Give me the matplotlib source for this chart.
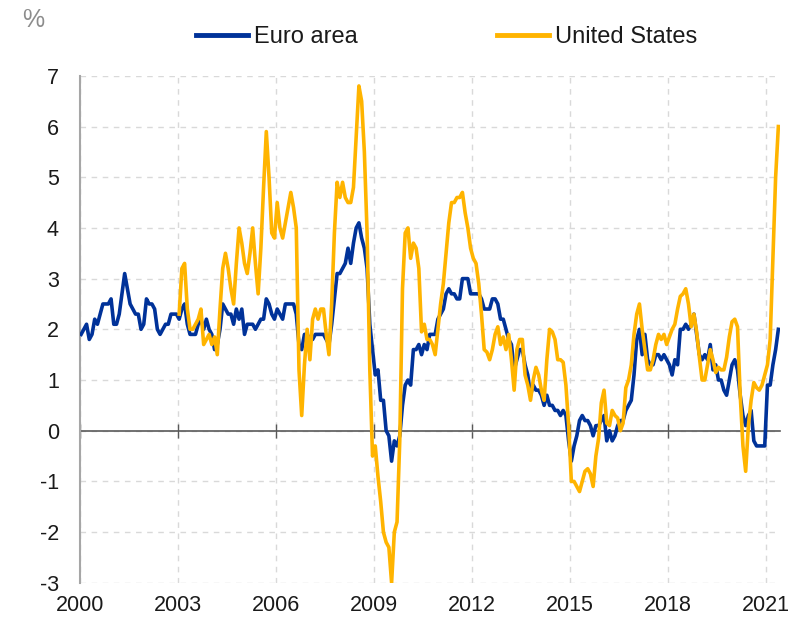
import numpy as np
import matplotlib
matplotlib.use("Agg")
import matplotlib.pyplot as plt
from matplotlib.lines import Line2D

plt.rcParams['font.family'] = ['Liberation Sans', 'DejaVu Sans']

# Monthly year-on-year inflation, % (Euro area: Jan 2000 - May 2021)
euro_area = [
    1.9, 2.0, 2.1, 1.8, 1.9, 2.2, 2.1, 2.3, 2.5, 2.5, 2.5, 2.6,   # 2000
    2.1, 2.1, 2.3, 2.7, 3.1, 2.8, 2.5, 2.4, 2.3, 2.3, 2.0, 2.1,   # 2001
    2.6, 2.5, 2.5, 2.4, 2.0, 1.9, 2.0, 2.1, 2.1, 2.3, 2.3, 2.3,   # 2002
    2.2, 2.4, 2.5, 2.1, 1.9, 1.9, 1.9, 2.1, 2.2, 2.0, 2.2, 2.0,   # 2003
    1.9, 1.6, 1.7, 2.0, 2.5, 2.4, 2.3, 2.3, 2.1, 2.4, 2.2, 2.4,   # 2004
    1.9, 2.1, 2.1, 2.1, 2.0, 2.1, 2.2, 2.2, 2.6, 2.5, 2.3, 2.2,   # 2005
    2.4, 2.3, 2.2, 2.5, 2.5, 2.5, 2.5, 2.3, 1.7, 1.6, 1.9, 1.9,   # 2006
    1.8, 1.8, 1.9, 1.9, 1.9, 1.9, 1.8, 1.7, 2.1, 2.6, 3.1, 3.1,   # 2007
    3.2, 3.3, 3.6, 3.3, 3.7, 4.0, 4.1, 3.8, 3.6, 3.2, 2.1, 1.6,   # 2008
    1.1, 1.2, 0.6, 0.6, 0.0, -0.1, -0.6, -0.2, -0.3, -0.1, 0.5, 0.9,  # 2009
    1.0, 0.9, 1.6, 1.6, 1.7, 1.5, 1.7, 1.6, 1.9, 1.9, 1.9, 2.2,   # 2010
    2.3, 2.4, 2.7, 2.8, 2.7, 2.7, 2.6, 2.6, 3.0, 3.0, 3.0, 2.7,   # 2011
    2.7, 2.7, 2.7, 2.6, 2.4, 2.4, 2.4, 2.6, 2.6, 2.5, 2.2, 2.2,   # 2012
    2.0, 1.8, 1.7, 1.2, 1.4, 1.6, 1.6, 1.3, 1.1, 0.7, 0.9, 0.8,   # 2013
    0.8, 0.7, 0.5, 0.7, 0.5, 0.5, 0.4, 0.4, 0.3, 0.4, 0.3, -0.2,  # 2014
    -0.6, -0.3, -0.1, 0.2, 0.3, 0.2, 0.2, 0.1, -0.1, 0.1, 0.1, 0.2,  # 2015
    0.3, -0.2, 0.0, -0.2, -0.1, 0.1, 0.2, 0.2, 0.4, 0.5, 0.6, 1.1,  # 2016
    1.8, 2.0, 1.5, 1.9, 1.4, 1.3, 1.3, 1.5, 1.5, 1.4, 1.5, 1.4,   # 2017
    1.3, 1.1, 1.4, 1.3, 2.0, 2.0, 2.1, 2.0, 2.1, 2.3, 1.9, 1.5,   # 2018
    1.4, 1.5, 1.4, 1.7, 1.2, 1.3, 1.0, 1.0, 0.8, 0.7, 1.0, 1.3,   # 2019
    1.4, 1.2, 0.7, 0.3, 0.1, 0.3, 0.4, -0.2, -0.3, -0.3, -0.3, -0.3,  # 2020
    0.9, 0.9, 1.3, 1.6, 2.0,                                      # 2021
]

# United States: Jan 2003 - May 2021
united_states = [
    2.3, 3.2, 3.3, 2.4, 2.0, 2.0, 2.1, 2.2, 2.4, 1.7, 1.8, 1.9,   # 2003
    1.7, 1.85, 1.5, 2.4, 3.2, 3.5, 3.2, 2.8, 2.5, 3.3, 4.0, 3.7,  # 2004
    3.3, 3.1, 3.5, 4.0, 3.3, 2.7, 3.6, 4.8, 5.9, 5.0, 3.9, 3.8,   # 2005
    4.5, 4.0, 3.8, 4.1, 4.4, 4.7, 4.4, 4.0, 1.2, 0.3, 1.3, 2.0,   # 2006
    1.4, 2.2, 2.4, 2.2, 2.4, 2.4, 1.9, 1.5, 2.5, 3.9, 4.9, 4.6,   # 2007
    4.9, 4.6, 4.5, 4.5, 4.8, 5.8, 6.8, 6.5, 5.5, 3.9, 1.2, -0.5,  # 2008
    -0.3, -0.9, -1.4, -2.0, -2.2, -2.3, -3.0, -2.0, -1.8, -0.2, 2.8, 3.9,  # 2009
    4.0, 3.4, 3.7, 3.6, 3.2, 1.95, 2.1, 1.8, 1.8, 1.7, 1.5, 2.0,  # 2010
    2.5, 2.9, 3.5, 4.1, 4.5, 4.5, 4.6, 4.6, 4.7, 4.3, 4.0, 3.6,   # 2011
    3.4, 3.3, 2.9, 2.3, 1.6, 1.55, 1.4, 1.6, 1.9, 2.05, 1.7, 1.85,  # 2012
    1.6, 1.9, 1.4, 0.8, 1.6, 1.8, 1.8, 1.1, 0.9, 0.6, 1.0, 1.25,  # 2013
    1.1, 0.8, 0.6, 1.4, 2.0, 1.95, 1.8, 1.4, 1.4, 1.35, 0.9, 0.1,  # 2014
    -1.0, -1.0, -1.1, -1.2, -1.0, -0.8, -0.75, -0.85, -1.1, -0.5, -0.15, 0.55,  # 2015
    0.8, 0.15, 0.1, 0.4, 0.3, 0.25, 0.0, 0.15, 0.85, 1.0, 1.3, 1.9,  # 2016
    2.3, 2.5, 2.0, 1.6, 1.2, 1.2, 1.4, 1.7, 1.9, 1.8, 1.9, 1.7,   # 2017
    1.85, 2.0, 2.1, 2.4, 2.65, 2.7, 2.8, 2.5, 2.05, 2.3, 1.95, 1.45,  # 2018
    1.0, 1.0, 1.3, 1.6, 1.4, 1.15, 1.25, 1.2, 1.2, 1.45, 1.85, 2.15,  # 2019
    2.2, 2.05, 0.7, -0.3, -0.8, 0.1, 0.6, 0.95, 0.85, 0.8, 0.9, 1.1,  # 2020
    1.3, 1.8, 3.4, 5.0, 6.0,                                      # 2021
]

us_start_month = 36  # Jan 2003
year_labels = ['2000', '2003', '2006', '2009', '2012', '2015', '2018', '2021']
y_ticks = [-3, -2, -1, 0, 1, 2, 3, 4, 5, 6, 7]
series_names = ['Euro area', 'United States']

BLUE = '#003299'
YELLOW = '#FFB400'

n = len(euro_area)
x_eu = np.arange(n) + 0.5
x_us = np.arange(us_start_month, us_start_month + len(united_states)) + 0.5
x_ticks = np.arange(len(year_labels)) * 36

fig = plt.figure(figsize=(8.03, 6.24), dpi=100)
ax = fig.add_axes([0.0993, 0.066, 0.8717, 0.8125])

ax.plot(x_eu, euro_area, color=BLUE, lw=2.6, solid_joinstyle='round', zorder=3)
ax.plot(x_us, united_states, color=YELLOW, lw=2.6, solid_joinstyle='round', zorder=4)

ax.set_xlim(0, n)
ax.set_ylim(-3, 7)
ax.set_yticks(y_ticks)
ax.set_yticklabels([str(v) for v in y_ticks])
ax.set_xticks(x_ticks)

ax.grid(True, color='#d9d9d9', linestyle=(0, (4, 4)), linewidth=1, zorder=0)
ax.set_axisbelow(True)

for s in ['top', 'right']:
    ax.spines[s].set_visible(False)
ax.spines['left'].set_color('#a6a6a6')
ax.spines['left'].set_linewidth(1.5)
ax.spines['bottom'].set_position(('data', 0))
ax.spines['bottom'].set_color('#595959')
ax.spines['bottom'].set_linewidth(1.2)
ax.spines['bottom'].set_zorder(2)

ax.tick_params(axis='x', direction='inout', length=10, width=1, color='#595959',
               labelbottom=False)
ax.tick_params(axis='y', length=0, pad=15, labelsize=15.5, labelcolor='#1a1a1a')

sec = ax.secondary_xaxis('bottom')
sec.set_xticks(x_ticks, labels=year_labels)
sec.tick_params(length=0, pad=9, labelsize=15.5, labelcolor='#1a1a1a')
sec.spines['bottom'].set_visible(False)

handles = [Line2D([], [], color=BLUE, lw=3.5), Line2D([], [], color=YELLOW, lw=3.5)]
fig.legend(handles, series_names, loc='center', bbox_to_anchor=(0.556, 0.94), ncol=2,
           frameon=False, fontsize=17, handlelength=2.2, handletextpad=0.25,
           columnspacing=5.9, labelcolor='#1a1a1a')

fig.text(22 / 803, 1 - 20 / 624, '%', color='#8c8c8c', fontsize=18, va='center', ha='left')

fig.savefig('out.png', dpi=100)
